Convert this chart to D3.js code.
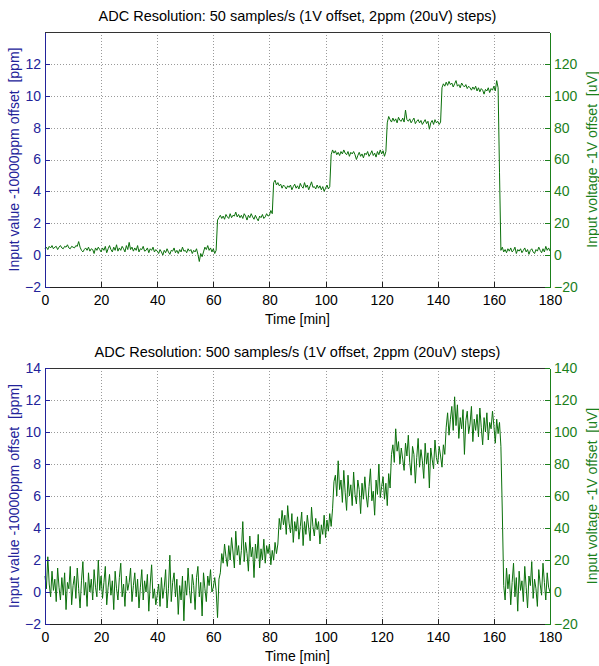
<!DOCTYPE html>
<html>
<meta charset="utf-8">

<head>
<style>

body {
    margin: 0;
    background: #fff;
    font-family: "Liberation Sans", Arial, sans-serif;
}

text {
    white-space: pre;
}

.grid line {
    stroke: #9a9a9a;
    stroke-width: 1;
    stroke-dasharray: 1,2;
    shape-rendering: crispEdges;
}

.axis path {
    fill: none;
    shape-rendering: crispEdges;
}

.axis line {
    shape-rendering: crispEdges;
}

.axis text {
    font-size: 14px;
    font-family: "Liberation Sans", Arial, sans-serif;
}

</style>

<script src="https://d3js.org/d3.v7.min.js"></script>

</head>

<body>

<script type="text/javascript">

// sample times every half minute, 0 .. 180
var sampleStep = 0.5;

var xTicks = [0, 20, 40, 60, 80, 100, 120, 140, 160, 180];

var leftTicksTop = [-2, 0, 2, 4, 6, 8, 10, 12];
var rightTicksTop = [-20, 0, 20, 40, 60, 80, 100, 120];
var leftTicksBottom = [-2, 0, 2, 4, 6, 8, 10, 12, 14];
var rightTicksBottom = [-20, 0, 20, 40, 60, 80, 100, 120, 140];

// 50 samples/s  (ppm, one value per 0.5 min)
var values50 = [
    0.4,0.5,0.35,0.55,0.45,0.6,0.4,0.5,0.55,0.35,0.5,0.6,0.45,0.4,0.55,0.5,0.65,0.45,0.4,0.55,
    0.5,0.45,0.6,0.55,0.85,0.5,0.3,0.2,0.35,0.45,0.3,0.5,0.25,0.4,0.35,0.1,0.45,0.3,0.5,0.35,
    0.2,0.45,0.3,0.55,0.15,0.4,0.6,0.35,0.2,0.5,0.3,0.65,0.25,0.45,0.3,0.55,0.4,0.2,0.6,0.35,
    0.8,0.35,0.5,0.25,0.45,0.3,0.6,0.2,0.4,0.35,0.55,0.25,0.3,0.45,0.15,0.4,0.3,0.5,0.2,0.35,
    0.25,0.1,0.35,0.2,0.0,0.3,0.15,0.4,0.2,0.05,0.3,0.25,0.45,0.15,0.3,0.1,0.35,0.2,0.5,0.25,
    0.3,0.15,0.4,0.25,0.35,0.1,0.3,0.2,0.4,0.05,-0.4,0.1,-0.1,0.2,0.5,0.35,0.6,0.3,0.45,0.2,
    0.4,0.1,0.3,2.2,2.35,2.5,2.3,2.45,2.25,2.55,2.4,2.3,2.6,2.35,2.5,2.45,2.7,2.4,2.55,2.35,
    2.5,2.3,2.6,2.45,2.2,2.5,2.35,2.6,2.4,2.25,2.5,2.3,2.15,2.45,2.35,2.55,2.3,2.4,2.6,2.45,
    2.5,2.8,2.6,4.55,4.7,4.4,4.55,4.35,4.45,4.2,4.4,4.3,4.15,4.35,4.25,4.4,4.1,4.3,4.45,4.2,
    4.35,4.15,4.5,4.3,4.2,4.55,4.25,4.4,4.1,4.35,4.6,4.25,4.3,4.15,4.4,4.2,4.35,4.1,4.3,4.0,
    4.2,4.4,4.15,4.3,6.3,6.6,6.4,6.55,6.3,6.45,6.25,6.5,6.35,6.6,6.4,6.3,6.5,6.2,6.45,6.35,
    6.5,6.3,6.0,6.25,6.45,6.2,6.35,6.1,6.4,6.3,6.5,6.2,6.35,6.55,6.25,6.4,6.15,6.5,6.3,6.6,
    6.35,6.55,6.2,6.5,8.3,8.7,8.5,8.35,8.6,8.4,8.55,8.3,8.65,8.45,8.4,8.6,8.35,9.1,8.5,8.4,
    8.55,8.3,8.45,8.6,8.25,8.4,8.5,8.3,8.45,8.2,8.35,8.5,8.25,8.4,7.9,8.3,8.45,8.2,8.5,8.3,
    8.4,8.2,8.35,10.5,10.75,10.6,10.85,10.65,10.9,10.7,10.8,10.55,10.75,10.95,10.6,10.7,10.5,10.8,10.65,10.55,
    10.7,10.45,10.6,10.5,10.35,10.55,10.4,10.6,10.3,10.5,10.25,10.45,10.35,10.1,10.4,10.3,10.5,10.2,10.45,10.35,
    10.6,10.3,10.95,10.5,5.2,0.3,0.5,0.2,0.35,0.15,0.4,0.25,0.45,0.2,0.3,0.5,0.1,0.35,0.25,0.4,
    0.15,0.3,0.45,0.2,0.35,0.05,0.3,0.4,0.2,0.1,0.35,0.25,0.5,0.3,0.15,0.4,0.2,0.55,0.3,0.45,
    0.25
];

// 500 samples/s  (ppm, one value per 0.5 min)
var values500 = [
    1.0,0.2,2.2,0.5,-0.3,1.3,0.1,0.8,-0.6,1.5,0.3,-0.5,0.9,-0.2,1.2,-1.1,0.6,0.2,1.6,-0.8,
    0.4,1.0,-0.4,1.5,0.2,-1.0,0.7,1.9,-0.2,0.6,-0.9,1.2,0.0,0.8,-0.5,1.4,0.3,-0.3,2.0,0.1,
    1.0,-0.4,0.6,1.6,-0.8,0.3,1.1,-0.2,0.7,-1.1,1.3,0.2,-0.5,0.9,1.8,-0.3,0.5,-0.9,1.0,0.1,
    0.6,1.5,-0.6,0.4,1.2,-0.3,0.8,-1.0,0.3,1.4,-0.5,0.7,0.0,1.1,-1.2,0.5,1.7,-0.4,0.2,-0.8,
    -0.2,0.5,-0.9,0.9,-0.4,0.3,1.4,-1.0,0.2,2.3,-0.6,0.6,1.2,-0.3,0.8,-1.4,0.4,-0.5,1.0,-1.8,
    0.7,-0.2,1.5,0.1,-0.7,1.1,0.4,-1.1,0.9,1.6,-0.3,0.6,-1.5,1.2,0.2,-0.6,1.0,0.4,1.4,0.0,
    0.3,0.9,0.1,-1.6,0.8,1.2,2.4,1.8,3.0,2.2,1.6,2.9,2.0,3.4,2.5,1.5,3.8,2.3,2.9,1.7,
    2.6,4.4,1.9,3.1,2.4,1.3,3.5,2.2,2.8,0.9,3.0,2.1,3.6,1.5,2.7,2.0,3.3,1.8,2.9,2.4,
    3.0,1.7,2.6,2.0,3.1,2.4,3.0,4.6,3.9,5.1,4.2,4.8,3.6,5.4,4.3,3.7,4.9,3.1,4.4,3.8,
    4.7,3.3,4.1,5.0,2.9,4.4,3.6,4.8,4.0,3.2,5.3,4.1,3.5,4.6,3.9,4.4,3.0,4.2,3.6,4.8,
    3.4,4.5,3.8,4.9,4.1,5.2,6.9,7.3,6.0,8.2,6.4,7.0,5.6,7.6,6.2,5.1,7.3,6.0,6.7,5.4,
    7.5,6.1,5.5,7.0,6.4,4.9,6.8,5.8,7.2,6.0,5.3,6.6,7.7,5.7,6.3,4.8,7.0,6.1,8.0,5.9,
    6.6,7.2,5.8,6.8,5.4,7.4,6.5,8.6,9.2,8.1,10.2,8.8,9.4,8.0,9.0,8.3,7.6,9.3,8.5,9.8,
    8.1,7.3,9.1,8.6,6.8,8.4,9.6,7.8,8.9,8.2,7.1,9.3,8.0,8.7,6.5,9.0,8.3,7.7,9.5,8.4,
    8.0,9.1,8.5,7.8,9.2,8.6,10.3,11.2,9.8,10.8,11.6,10.1,12.2,10.4,11.7,9.6,10.9,10.2,11.4,8.6,
    10.7,11.3,9.9,10.5,11.6,9.4,10.8,10.1,11.1,9.7,11.5,10.3,9.2,10.9,10.0,11.2,9.5,10.6,10.2,11.3,
    10.4,9.3,10.8,9.9,10.6,9.1,5.0,0.4,-0.5,1.5,0.2,1.1,-0.8,0.6,1.8,-0.3,0.9,-1.2,1.3,0.1,
    0.7,-0.6,1.6,0.3,-1.0,1.0,0.4,1.9,-0.4,0.8,0.2,-0.9,1.4,0.5,-0.2,1.8,0.6,-0.5,1.2,0.3,
    0.0
];

var blue = "#23239a",
    green = "#1b801b",
    lineGreen = "#0b700b";

var W = 599, H = 666;

var svg = d3.select("body")
    .append("svg")
        .attr("width", W)
        .attr("height", H);

function plot_panel(title, values, top, bottom, leftTicks, rightTicks) {

    var left = 45, right = 550;

    var x = d3.scaleLinear().domain([0, 180]).range([left, right]);
    var y = d3.scaleLinear().domain([-2, 14]).range([bottom, top]);
    var y2 = d3.scaleLinear().domain([-20, 140]).range([bottom, top]);

    var g = svg.append("g");

    // dotted grid
    var grid = g.append("g").attr("class", "grid");
    grid.selectAll(".gx")
        .data(xTicks.slice(1, -1))
      .enter().append("line")
        .attr("x1", function(d) { return Math.round(x(d)) + 0.5; })
        .attr("x2", function(d) { return Math.round(x(d)) + 0.5; })
        .attr("y1", top)
        .attr("y2", bottom);
    grid.selectAll(".gy")
        .data(leftTicks.filter(function(d) { return d > -2 && d < 14; }))
      .enter().append("line")
        .attr("x1", left)
        .attr("x2", right)
        .attr("y1", function(d) { return Math.round(y(d)) + 0.5; })
        .attr("y2", function(d) { return Math.round(y(d)) + 0.5; });

    // the trace
    var line = d3.line()
        .x(function(d, i) { return x(i * sampleStep); })
        .y(function(d) { return y(d); });

    g.append("path")
        .datum(values)
        .attr("fill", "none")
        .attr("stroke", lineGreen)
        .attr("stroke-width", 1)
        .attr("stroke-linejoin", "round")
        .attr("d", line);

    // box top
    g.append("line")
        .attr("x1", left).attr("x2", right)
        .attr("y1", top + 0.5).attr("y2", top + 0.5)
        .attr("stroke", "#333");

    // axes, ticks pointing inward like matlab
    var xAxis = d3.axisBottom(x).tickValues(xTicks).tickSize(-5).tickPadding(8).tickSizeOuter(0);
    var yAxis = d3.axisLeft(y).tickValues(leftTicks).tickSize(-5).tickPadding(4).tickSizeOuter(0);
    var y2Axis = d3.axisRight(y2).tickValues(rightTicks).tickSize(-5).tickPadding(4).tickSizeOuter(0);

    var gx = g.append("g")
        .attr("class", "axis")
        .attr("transform", "translate(0," + bottom + ")")
        .call(xAxis);
    gx.select(".domain").attr("stroke", "#222");
    gx.selectAll("line").attr("stroke", "#222");
    gx.selectAll("text").attr("fill", "#000");

    var gy = g.append("g")
        .attr("class", "axis")
        .attr("transform", "translate(" + left + ",0)")
        .call(yAxis);
    gy.select(".domain").attr("stroke", blue);
    gy.selectAll("line").attr("stroke", blue);
    gy.selectAll("text").attr("fill", blue);

    var gy2 = g.append("g")
        .attr("class", "axis")
        .attr("transform", "translate(" + right + ",0)")
        .call(y2Axis);
    gy2.select(".domain").attr("stroke", green);
    gy2.selectAll("line").attr("stroke", green);
    gy2.selectAll("text").attr("fill", green);

    // titles and labels
    g.append("text")
        .attr("x", (left + right) / 2)
        .attr("y", top - 11)
        .attr("text-anchor", "middle")
        .style("font-size", "14.5px")
        .text(title);

    g.append("text")
        .attr("x", (left + right) / 2)
        .attr("y", bottom + 37)
        .attr("text-anchor", "middle")
        .style("font-size", "14px")
        .text("Time [min]");

    g.append("text")
        .attr("transform", "translate(19," + (top + bottom) / 2 + ") rotate(-90)")
        .attr("text-anchor", "middle")
        .style("font-size", "14px")
        .attr("fill", blue)
        .text("Input value -10000ppm offset  [ppm]");

    g.append("text")
        .attr("transform", "translate(597," + (top + bottom) / 2 + ") rotate(-90)")
        .attr("text-anchor", "middle")
        .style("font-size", "14px")
        .attr("fill", green)
        .text("Input voltage -1V offset  [uV]");
}

plot_panel("ADC Resolution: 50 samples/s (1V offset, 2ppm (20uV) steps)",
    values50, 32, 287, leftTicksTop, rightTicksTop);

plot_panel("ADC Resolution: 500 samples/s (1V offset, 2ppm (20uV) steps)",
    values500, 368, 624, leftTicksBottom, rightTicksBottom);

</script>
</body>

</html>
